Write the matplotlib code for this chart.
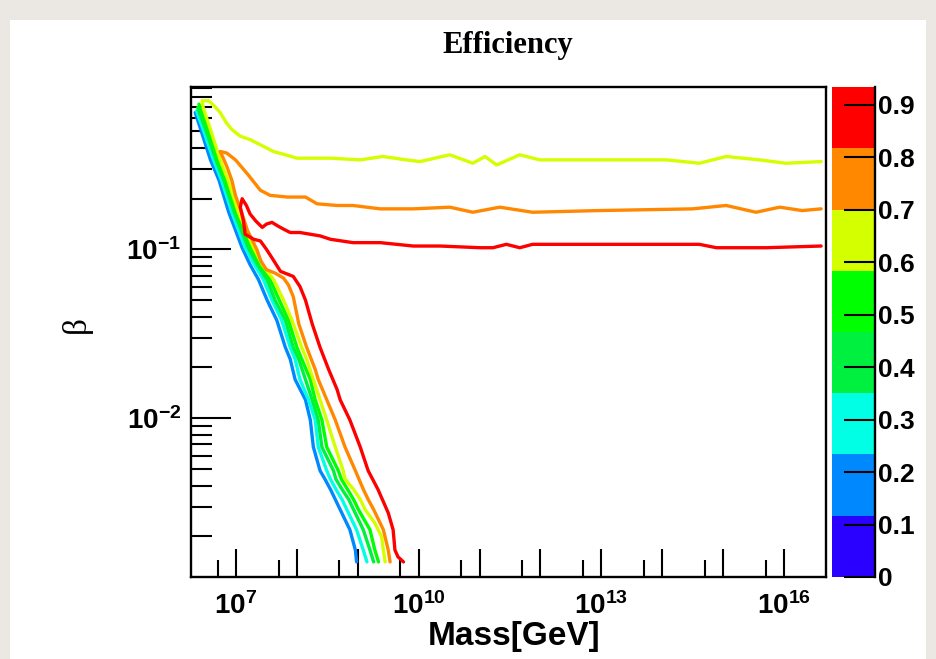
import numpy as np
import matplotlib

matplotlib.use("Agg")
import matplotlib.pyplot as plt
from matplotlib import colors
from matplotlib.colorbar import ColorbarBase
from matplotlib.patches import Rectangle
from matplotlib.ticker import FixedLocator, FixedFormatter, NullFormatter

plt.rcParams["mathtext.fontset"] = "custom"
plt.rcParams["mathtext.rm"] = "Liberation Sans:bold"
plt.rcParams["mathtext.bf"] = "Liberation Sans:bold"
plt.rcParams["mathtext.it"] = "Liberation Sans:bold"

# contour levels of the efficiency map (ROOT splits 0..max into 8 bands)
contour_levels = [0.0, 0.117, 0.234, 0.35, 0.467, 0.584, 0.70, 0.817, 0.934]
band_colors = ["#2a00ff", "#0088ff", "#00ffe4", "#00f040", "#00ff00", "#d4ff00", "#ff8800", "#ff0000"]
cbar_ticks = [0.0, 0.1, 0.2, 0.3, 0.4, 0.5, 0.6, 0.7, 0.8, 0.9]
cbar_labels = ["0", "0.1", "0.2", "0.3", "0.4", "0.5", "0.6", "0.7", "0.8", "0.9"]

# contour lines, log10(mass / GeV) and log10(beta)
blue_log_mass = [6.33, 6.42, 6.58, 6.72, 6.88, 7.10, 7.23, 7.37, 7.51, 7.67, 7.81, 7.89, 7.97,
                 8.14, 8.22, 8.27, 8.38, 8.46, 8.55, 8.63, 8.71, 8.87, 8.96, 8.98]
blue_log_beta = [-0.19, -0.29, -0.47, -0.59, -0.78, -0.99, -1.09, -1.18, -1.30, -1.42, -1.58, -1.65, -1.77,
                 -1.89, -2.01, -2.17, -2.31, -2.36, -2.42, -2.48, -2.54, -2.66, -2.78, -2.85]

cyan_log_mass = [6.35, 6.46, 6.63, 6.76, 6.93, 7.15, 7.30, 7.45, 7.59, 7.75, 7.89, 7.97, 8.05,
                 8.19, 8.30, 8.35, 8.49, 8.55, 8.64, 8.74, 8.82, 8.98, 9.09, 9.15]
cyan_log_beta = [-0.18, -0.29, -0.47, -0.59, -0.78, -0.99, -1.09, -1.18, -1.30, -1.42, -1.58, -1.65, -1.77,
                 -1.89, -2.01, -2.17, -2.31, -2.36, -2.42, -2.48, -2.54, -2.66, -2.78, -2.85]

green_log_mass = [6.37, 6.50, 6.67, 6.80, 6.97, 7.20, 7.35, 7.51, 7.64, 7.81, 7.94, 8.03, 8.14,
                  8.25, 8.35, 8.41, 8.60, 8.64, 8.74, 8.85, 8.93, 9.09, 9.20, 9.26]
green_log_beta = [-0.16, -0.29, -0.47, -0.59, -0.78, -0.99, -1.09, -1.18, -1.30, -1.42, -1.58, -1.65, -1.77,
                  -1.89, -2.01, -2.17, -2.31, -2.36, -2.42, -2.48, -2.54, -2.66, -2.78, -2.85]

lime_log_mass = [6.39, 6.54, 6.70, 6.83, 7.01, 7.24, 7.40, 7.56, 7.71, 7.86, 8.00, 8.08, 8.22,
                 8.30, 8.41, 8.49, 8.68, 8.73, 8.83, 8.93, 9.01, 9.20, 9.28, 9.34]
lime_log_beta = [-0.14, -0.29, -0.47, -0.59, -0.78, -0.99, -1.09, -1.18, -1.30, -1.42, -1.58, -1.65, -1.77,
                 -1.89, -2.01, -2.17, -2.31, -2.36, -2.42, -2.48, -2.54, -2.66, -2.78, -2.85]

yellow_log_mass = [9.45, 9.42, 9.39, 9.28, 9.12, 9.04, 8.93, 8.79, 8.76, 8.63, 8.49, 8.38, 8.27,
                   8.16, 8.08, 7.92, 7.78, 7.62, 7.43, 7.29, 7.04, 6.87, 6.74, 6.58, 6.46, 6.44,
                   6.55, 6.64, 6.74, 6.84, 6.93, 7.07, 7.23, 7.45, 7.61, 7.81, 8.00, 8.55, 9.04,
                   9.41, 9.80, 10.02, 10.51, 10.89, 11.09, 11.28, 11.66, 11.99, 12.97, 14.07,
                   14.61, 15.05, 15.60, 16.03, 16.61]
yellow_log_beta = [-2.85, -2.78, -2.70, -2.62, -2.54, -2.48, -2.42, -2.36, -2.31, -2.17, -2.01, -1.89, -1.77,
                   -1.65, -1.58, -1.42, -1.30, -1.18, -1.09, -0.99, -0.78, -0.59, -0.47, -0.29, -0.16, -0.12,
                   -0.12, -0.15, -0.19, -0.25, -0.29, -0.33, -0.35, -0.39, -0.42, -0.44, -0.46, -0.46, -0.47,
                   -0.45, -0.47, -0.48, -0.44, -0.49, -0.45, -0.50, -0.44, -0.47, -0.47, -0.47,
                   -0.49, -0.45, -0.47, -0.49, -0.48]

orange_log_mass = [9.53, 9.50, 9.42, 9.26, 9.17, 9.09, 8.96, 8.79, 8.63, 8.49, 8.35, 8.30, 8.16,
                   8.03, 7.94, 7.86, 7.78, 7.64, 7.50, 7.41, 7.34, 7.26, 7.19, 7.09, 6.99, 6.93,
                   6.85, 6.79, 6.74, 6.85, 6.99, 7.18, 7.40, 7.56, 7.84, 8.14, 8.33, 8.66, 8.92,
                   9.37, 9.91, 10.51, 10.89, 11.33, 11.87, 12.97, 14.50, 15.05, 15.54, 15.93,
                   16.30, 16.61]
orange_log_beta = [-2.85, -2.78, -2.66, -2.54, -2.48, -2.42, -2.31, -2.17, -2.01, -1.89, -1.77, -1.71, -1.58,
                   -1.44, -1.28, -1.21, -1.17, -1.14, -1.12, -1.07, -1.00, -0.94, -0.89, -0.78, -0.68, -0.59,
                   -0.51, -0.46, -0.42, -0.43, -0.47, -0.55, -0.65, -0.68, -0.69, -0.69, -0.73, -0.74, -0.74,
                   -0.76, -0.76, -0.75, -0.78, -0.75, -0.78, -0.77, -0.76, -0.74, -0.78, -0.75,
                   -0.77, -0.76]

red_log_mass = [9.75, 9.66, 9.61, 9.58, 9.50, 9.33, 9.17, 9.04, 8.87, 8.71, 8.66, 8.52, 8.38,
                8.25, 8.14, 8.05, 7.94, 7.73, 7.59, 7.50, 7.40, 7.29, 7.15, 7.12, 7.07, 7.10,
                7.17, 7.23, 7.32, 7.43, 7.50, 7.59, 7.68, 7.78, 7.89, 8.05, 8.38, 8.55, 8.92,
                9.37, 9.91, 10.35, 11.01, 11.22, 11.44, 11.66, 11.87, 12.97, 14.61, 14.89,
                15.71, 16.61]
red_log_beta = [-2.85, -2.82, -2.78, -2.66, -2.56, -2.42, -2.31, -2.17, -2.01, -1.89, -1.83, -1.71, -1.58,
                -1.44, -1.30, -1.22, -1.16, -1.13, -1.05, -1.00, -0.95, -0.94, -0.91, -0.83, -0.75, -0.70,
                -0.74, -0.79, -0.83, -0.87, -0.85, -0.84, -0.86, -0.88, -0.90, -0.90, -0.92, -0.94, -0.96,
                -0.96, -0.98, -0.98, -0.99, -0.99, -0.97, -0.99, -0.97, -0.97, -0.97, -0.99,
                -0.99, -0.98]

mass_range = (1.82e6, 4.9e16)
beta_range = (1.15e-3, 0.915)
mass_ticks = [1e7, 1e8, 1e9, 1e10, 1e11, 1e12, 1e13, 1e14, 1e15, 1e16]
mass_labels = [r"$\mathbf{10^{7}}$", "", "", r"$\mathbf{10^{10}}$", "", "",
               r"$\mathbf{10^{13}}$", "", "", r"$\mathbf{10^{16}}$"]
mass_minor = [5e6, 5e7, 5e8, 5e9, 5e10, 5e11, 5e12, 5e13, 5e14, 5e15, 5e16]
beta_ticks = [1e-2, 1e-1]
beta_labels = [r"$\mathbf{10^{-2}}$", r"$\mathbf{10^{-1}}$"]

W, H = 936, 659
fig = plt.figure(figsize=(W / 100, H / 100), dpi=100)
fig.patch.set_facecolor("#ebe8e3")
fig.add_artist(Rectangle((10 / W, 0), 916 / W, 1 - 20 / H, transform=fig.transFigure,
                         facecolor="white", edgecolor="none", zorder=0))

ax = fig.add_axes([191 / W, 82 / H, 635 / W, 490 / H])
ax.set_xscale("log")
ax.set_yscale("log")

lines = [
    (blue_log_mass, blue_log_beta, band_colors[1]),
    (cyan_log_mass, cyan_log_beta, band_colors[2]),
    (green_log_mass, green_log_beta, band_colors[3]),
    (lime_log_mass, lime_log_beta, band_colors[4]),
    (yellow_log_mass, yellow_log_beta, band_colors[5]),
    (orange_log_mass, orange_log_beta, band_colors[6]),
    (red_log_mass, red_log_beta, band_colors[7]),
]
for log_m, log_b, c in lines:
    ax.plot(10 ** np.array(log_m), 10 ** np.array(log_b), color=c, lw=2.4,
            solid_joinstyle="round", solid_capstyle="round")

ax.set_xlim(*mass_range)
ax.set_ylim(*beta_range)

ax.xaxis.set_major_locator(FixedLocator(mass_ticks))
ax.xaxis.set_major_formatter(FixedFormatter(mass_labels))
ax.xaxis.set_minor_locator(FixedLocator(mass_minor))
ax.xaxis.set_minor_formatter(NullFormatter())
beta_minor = [m * 10.0 ** e for e in (-3, -2, -1) for m in range(2, 10)]
ax.yaxis.set_major_locator(FixedLocator(beta_ticks))
ax.yaxis.set_major_formatter(FixedFormatter(beta_labels))
ax.yaxis.set_minor_locator(FixedLocator(beta_minor))
ax.yaxis.set_minor_formatter(NullFormatter())

ax.tick_params(axis="x", which="major", direction="in", length=20, width=1.5, labelsize=20, pad=11)
ax.tick_params(axis="x", which="minor", direction="in", length=12, width=1.5)
ax.tick_params(axis="y", which="major", direction="in", length=29, width=1.5, labelsize=20, pad=7)
ax.tick_params(axis="y", which="minor", direction="in", length=15, width=1.5)
for sp in ax.spines.values():
    sp.set_linewidth(1.7)

# colour scale
cax = fig.add_axes([832 / W, 82 / H, 43 / W, 490 / H])
cmap = colors.ListedColormap(band_colors)
norm = colors.BoundaryNorm(contour_levels, cmap.N)
cb = ColorbarBase(cax, cmap=cmap, norm=norm, boundaries=contour_levels,
                  ticks=cbar_ticks, spacing="proportional")
cb.outline.set_visible(False)
cax.spines["right"].set_visible(True)
cax.spines["right"].set_linewidth(1.7)
cax.set_yticks(cbar_ticks)
cax.set_yticklabels(cbar_labels, fontfamily="Liberation Sans", fontweight="bold")
cax.tick_params(axis="y", which="major", direction="in", length=22, width=1.5, labelsize=19, pad=2)
cax.minorticks_off()

fig.text(508 / W, 1 - 46 / H, "Efficiency", ha="center", va="center",
         fontfamily="Liberation Serif", fontweight="bold", fontsize=22)
fig.text(514 / W, 1 - 637 / H, "Mass[GeV]", ha="center", va="center",
         fontfamily="Liberation Sans", fontweight="bold", fontsize=24)
fig.text(76 / W, 1 - 325 / H, "β", ha="center", va="center", rotation=90,
         fontfamily="Liberation Serif", fontsize=24)

fig.savefig("out.png", dpi=100, facecolor=fig.get_facecolor())
